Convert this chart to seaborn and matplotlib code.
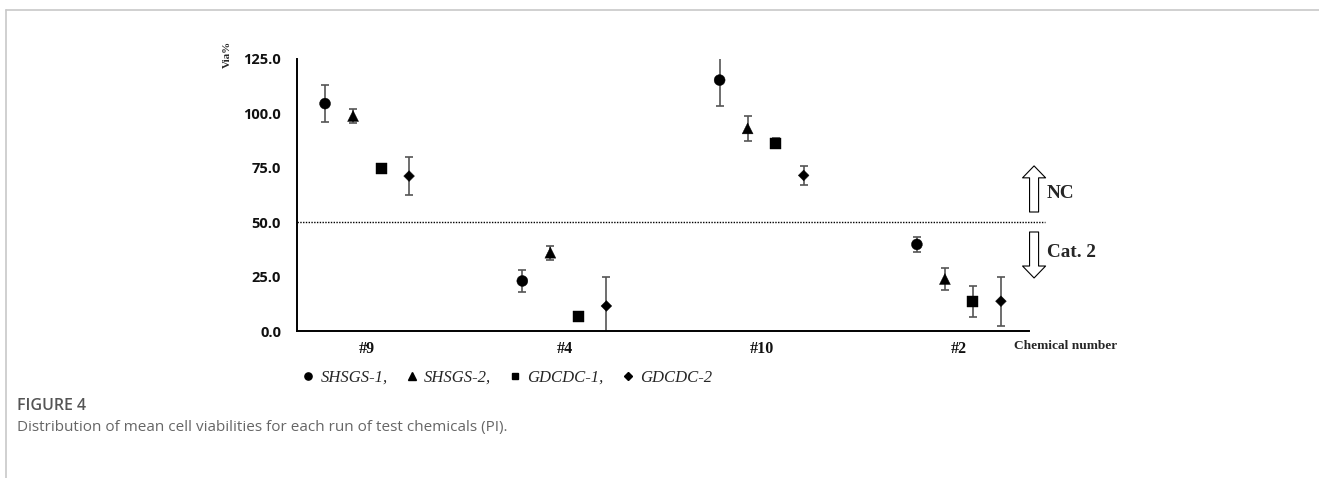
import numpy as np
import pandas as pd
import matplotlib
matplotlib.use("Agg")
import matplotlib.pyplot as plt
from matplotlib.lines import Line2D
from matplotlib.ticker import FormatStrFormatter
import seaborn as sns

# Test chemicals and the four runs
chemicals = ["#9", "#4", "#10", "#2"]
runs = ["SHSGS-1", "SHSGS-2", "GDCDC-1", "GDCDC-2"]

# Mean cell viability (%) per run, in chemical order
via_shsgs1 = [104.5, 23.0, 115.3, 39.8]
via_shsgs2 = [98.8, 36.0, 93.1, 23.9]
via_gdcdc1 = [74.8, 6.7, 86.3, 13.7]
via_gdcdc2 = [71.2, 11.5, 71.5, 13.7]

# Standard deviations
sd_shsgs1 = [8.6, 4.9, 12.0, 3.4]
sd_shsgs2 = [3.0, 3.2, 5.8, 5.2]
sd_gdcdc1 = [0.5, 0.4, 2.4, 7.1]
sd_gdcdc2 = [8.6, 13.3, 4.2, 11.3]

yticks = [0, 25, 50, 75, 100, 125]
cutoff = 50

means = [via_shsgs1, via_shsgs2, via_gdcdc1, via_gdcdc2]
sds = [sd_shsgs1, sd_shsgs2, sd_gdcdc1, sd_gdcdc2]

# Horizontal dodge of each run within a chemical group
dodge = [-0.213, -0.071, 0.071, 0.213]

rows = []
for r, run in enumerate(runs):
    for c, chem in enumerate(chemicals):
        rows.append({"chemical": chem, "run": run, "via": means[r][c],
                     "sd": sds[r][c], "x": c + dodge[r]})
df = pd.DataFrame(rows)

sns.set_style("white")
serif = ["Liberation Serif", "DejaVu Serif"]

fig = plt.figure(figsize=(13.19, 4.78), dpi=100)
ax = fig.add_axes([0.2252, 0.3075, 0.5549, 0.5691])

marker_map = dict(zip(runs, ["o", "^", "s", "D"]))
size_map = dict(zip(runs, [62, 62, 62, 30]))

# error bars first, markers on top
ax.errorbar(df["x"], df["via"], yerr=df["sd"], fmt="none", ecolor="#555555",
            elinewidth=1.2, capsize=2.9, capthick=1.2, zorder=2)
sns.scatterplot(data=df, x="x", y="via", style="run", markers=marker_map,
                size="run", sizes=size_map, color="black", edgecolor="black",
                linewidth=0.3, legend=False, ax=ax, zorder=3)

ax.set_xlim(-0.355, 3.355)
ax.set_ylim(0, 125)
ax.set_yticks(yticks)
ax.yaxis.set_major_formatter(FormatStrFormatter("%.1f"))
ax.set_xticks(range(len(chemicals)))
ax.set_xticklabels(chemicals)
ax.set_xlabel("")
ax.set_ylabel("")

for lab in ax.get_yticklabels():
    lab.set_fontfamily("Open Sans")
    lab.set_fontweight("bold")
    lab.set_fontsize(10.5)
for lab in ax.get_xticklabels():
    lab.set_fontfamily(serif)
    lab.set_fontweight("bold")
    lab.set_fontsize(11.5)
ax.tick_params(axis="y", length=0, pad=11.5, colors="#111111")
ax.tick_params(axis="x", length=0, pad=7, colors="#111111")

for side in ["top", "right"]:
    ax.spines[side].set_visible(False)
for side in ["left", "bottom"]:
    ax.spines[side].set_color("black")
    ax.spines[side].set_linewidth(1.4)

# classification cut-off
ax.axhline(cutoff, xmin=0, xmax=1.022, color="black", linestyle=(0, (1, 1)),
           linewidth=1.0, clip_on=False, zorder=1)

# hollow block arrows with category labels
arrow_kw = dict(arrowstyle="simple,head_length=0.86,head_width=1.66,tail_width=0.65",
                fc="white", ec="black", lw=0.8, shrinkA=0, shrinkB=0,
                mutation_scale=10)
ax.annotate("", xy=(1.007, 0.607), xytext=(1.007, 0.4375),
            xycoords="axes fraction", textcoords="axes fraction",
            arrowprops=arrow_kw, annotation_clip=False)
ax.annotate("", xy=(1.007, 0.195), xytext=(1.007, 0.364),
            xycoords="axes fraction", textcoords="axes fraction",
            arrowprops=arrow_kw, annotation_clip=False)
ax.text(1.0246, 0.507, "NC", transform=ax.transAxes, family=serif,
        fontweight="bold", fontsize=13.8, ha="left", va="center")
ax.text(1.0246, 0.288, "Cat. 2", transform=ax.transAxes, family=serif,
        fontweight="bold", fontsize=13.8, ha="left", va="center")

# axis titles
ax.text(-0.095, 1.015, "Via%", transform=ax.transAxes, family=serif,
        fontweight="bold", fontsize=8, rotation=90, ha="center", va="center")
ax.text(0.9795, -0.055, "Chemical number", transform=ax.transAxes, family=serif,
        fontweight="bold", fontsize=9.6, ha="left", va="center")

# legend row
handles = [Line2D([], [], linestyle="none", marker=m, color="black",
                  markersize=ms)
           for m, ms in zip(["o", "^", "s", "D"], [5.2, 5.4, 5.0, 3.8])]
labels = [f"{r}," for r in runs[:-1]] + [runs[-1]]
fig.legend(handles, labels, loc="center left", bbox_to_anchor=(0.2286, 0.2098),
           ncol=4, frameon=False, borderpad=0, borderaxespad=0,
           handlelength=0.8, handletextpad=0.33, columnspacing=1.05,
           prop={"family": serif, "style": "italic", "size": 12})

# page frame and caption
fig.add_artist(Line2D([6 / 1319, 1], [1 - 10 / 478, 1 - 10 / 478],
                      transform=fig.transFigure, color="#c8c8c8", lw=1.2))
fig.add_artist(Line2D([6 / 1319, 6 / 1319], [0, 1 - 10 / 478],
                      transform=fig.transFigure, color="#c8c8c8", lw=1.2))
fig.text(17 / 1319, 1 - 406 / 478, "FIGURE 4", family="Open Sans",
         fontweight="semibold", fontsize=11.5, color="#555555", va="center")
fig.text(17 / 1319, 1 - 427 / 478,
         "Distribution of mean cell viabilities for each run of test chemicals (PI).",
         family="Open Sans", fontsize=11, color="#666666", va="center")

fig.savefig("out.png", dpi=100, facecolor="white")
